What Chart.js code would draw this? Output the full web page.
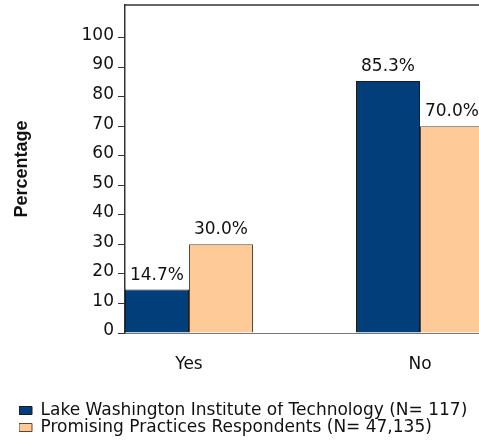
<!DOCTYPE html>
<html>
<head>
<meta charset="utf-8">
<script src="https://cdn.jsdelivr.net/npm/chart.js@4.4.1/dist/chart.umd.min.js"></script>
<style>
  body { margin: 0; background: #fff; }
  #wrap { width: 479px; height: 444px; }
</style>
</head>
<body>
<div id="wrap"><canvas id="chart"></canvas></div>
<script>
const categories = ["Yes", "No"];
const lakeWashington = [14.7, 85.3];
const promisingPractices = [30.0, 70.0];
const seriesNames = [
  "Lake Washington Institute of Technology (N= 117)",
  "Promising Practices Respondents (N= 47,135)"
];
const yTicks = [0, 10, 20, 30, 40, 50, 60, 70, 80, 90, 100];

const fontFamily = "'DejaVu Sans', sans-serif";

function points(values) {
  return values.map((v, i) => ({ x: i, y: v }));
}

// percentage labels above each bar
const valueLabels = {
  id: "valueLabels",
  afterDatasetsDraw(chart) {
    const ctx = chart.ctx;
    ctx.save();
    ctx.font = "17px " + fontFamily;
    ctx.fillStyle = "#111";
    ctx.textAlign = "center";
    ctx.textBaseline = "alphabetic";
    chart.data.datasets.forEach((ds, i) => {
      chart.getDatasetMeta(i).data.forEach((bar, j) => {
        ctx.fillText(ds.data[j].y.toFixed(1) + "%", bar.x, bar.y - 10);
      });
    });
    ctx.restore();
  }
};

// top edge of the plot frame
const topFrame = {
  id: "topFrame",
  afterDraw(chart) {
    const { ctx, chartArea: a } = chart;
    ctx.save();
    ctx.strokeStyle = "#333";
    ctx.lineWidth = 1.5;
    ctx.beginPath();
    ctx.moveTo(a.left, a.top);
    ctx.lineTo(a.right, a.top);
    ctx.stroke();
    ctx.restore();
  }
};

new Chart(document.getElementById("chart"), {
  type: "bar",
  data: {
    datasets: [
      {
        label: seriesNames[0],
        data: points(lakeWashington),
        backgroundColor: "#023f7a",
        borderColor: "#1a1a1a",
        borderWidth: 1
      },
      {
        label: seriesNames[1],
        data: points(promisingPractices),
        backgroundColor: "#fdca98",
        borderColor: "#5a4632",
        borderWidth: 1
      }
    ]
  },
  plugins: [valueLabels, topFrame],
  options: {
    responsive: true,
    maintainAspectRatio: false,
    animation: false,
    categoryPercentage: 0.554,
    barPercentage: 1,
    layout: { padding: { left: 19, top: 5, right: 0, bottom: -2 } },
    plugins: {
      tooltip: { enabled: false },
      legend: {
        position: "bottom",
        align: "start",
        labels: {
          boxWidth: 13,
          boxHeight: 8,
          padding: 0,
          color: "#111",
          font: { family: fontFamily, size: 17 }
        }
      }
    },
    scales: {
      x: {
        type: "linear",
        offset: false,
        min: -0.277,
        max: 1.2554,
        afterBuildTicks(scale) {
          scale.ticks = categories.map((_, i) => ({ value: i }));
        },
        afterFit(scale) {
          scale.height = 69;
          scale.paddingLeft = 0;
          scale.paddingRight = 0;
        },
        grid: { display: false, offset: false, drawTicks: false, tickLength: 0 },
        border: { display: true, color: "#777", width: 1 },
        ticks: {
          padding: 21,
          color: "#111",
          font: { family: fontFamily, size: 17 },
          callback: (v) => categories[v]
        }
      },
      y: {
        min: 0,
        max: 111,
        afterBuildTicks(scale) {
          scale.ticks = yTicks.map((v) => ({ value: v }));
        },
        afterFit(scale) {
          scale.width = 106;
          scale.paddingTop = 0;
          scale.paddingBottom = 0;
        },
        grid: {
          drawOnChartArea: false,
          drawTicks: true,
          tickLength: 7,
          color: "#333"
        },
        border: { display: true, color: "#333", width: 1.5 },
        ticks: {
          padding: 4,
          labelOffset: -2,
          color: "#111",
          font: { family: fontFamily, size: 17 }
        },
        title: {
          display: true,
          text: "Percentage",
          color: "#111",
          padding: { top: -8, bottom: 0 },
          font: { family: "'Liberation Sans', Arial, sans-serif", size: 18, weight: "bold" }
        }
      }
    }
  }
});
</script>
</body>
</html>
